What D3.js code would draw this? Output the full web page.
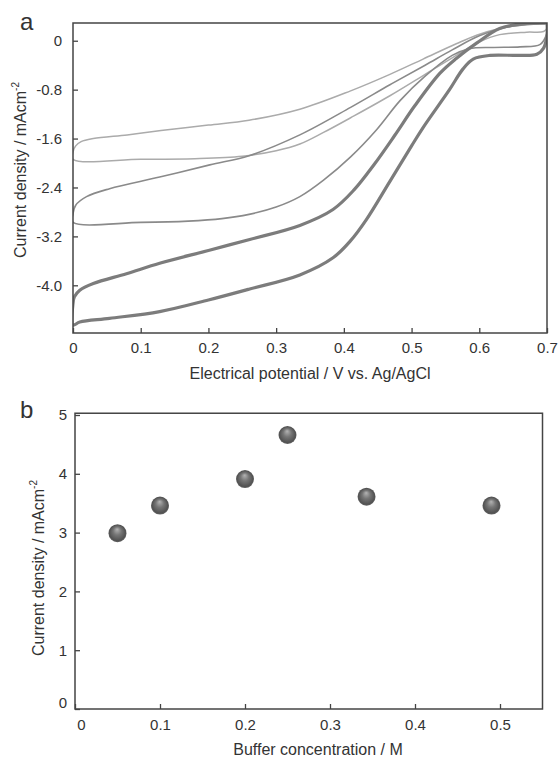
<!DOCTYPE html>
<html>
<head>
<meta charset="utf-8">
<script src="https://cdn.jsdelivr.net/npm/d3@7"></script>
<style>
	body { margin: 0; background: #fff; }
	text { font-family: Arial, "Liberation Sans", sans-serif; fill: #333; }
</style>
</head>
<body>
<div id="chart"></div>
<script>
var width = 558,
	height = 759;

// panel a - three voltammograms, each a loop of two branches (V, mA/cm2)
var potentialTicks = [0, 0.1, 0.2, 0.3, 0.4, 0.5, 0.6, 0.7];
var densityTicksA = [0, -0.8, -1.6, -2.4, -3.2, -4.0];

var lightUpperV = [0, 0.004, 0.012, 0.03, 0.08, 0.13, 0.2, 0.26, 0.335, 0.41, 0.468, 0.517, 0.566, 0.596, 0.63, 0.665, 0.7];
var lightUpperJ = [-1.82, -1.72, -1.65, -1.60, -1.54, -1.47, -1.38, -1.30, -1.12, -0.82, -0.55, -0.30, -0.05, 0.09, 0.2, 0.26, 0.28];
var lightLowerV = [0, 0.1, 0.18, 0.25, 0.3, 0.335, 0.37, 0.41, 0.468, 0.52, 0.56, 0.6, 0.63, 0.67, 0.695, 0.7];
var lightLowerJ = [-1.94, -1.94, -1.93, -1.89, -1.80, -1.69, -1.50, -1.26, -0.90, -0.55, -0.28, -0.02, 0.1, 0.14, 0.15, 0.2];

var medUpperV = [0, 0.004, 0.02, 0.054, 0.128, 0.202, 0.26, 0.335, 0.41, 0.468, 0.52, 0.56, 0.6, 0.64, 0.68, 0.7];
var medUpperJ = [-2.83, -2.69, -2.55, -2.42, -2.23, -2.03, -1.88, -1.54, -1.09, -0.72, -0.40, -0.15, 0.08, 0.22, 0.27, 0.28];
var medLowerV = [0, 0.1, 0.17, 0.22, 0.26, 0.3, 0.335, 0.37, 0.41, 0.448, 0.483, 0.52, 0.56, 0.585, 0.62, 0.66, 0.69, 0.7];
var medLowerJ = [-2.97, -2.97, -2.95, -2.91, -2.84, -2.72, -2.55, -2.28, -1.90, -1.46, -0.98, -0.58, -0.24, -0.13, -0.11, -0.10, -0.06, 0.12];

var darkUpperV = [0, 0.002, 0.01, 0.03, 0.079, 0.128, 0.2, 0.261, 0.335, 0.384, 0.415, 0.445, 0.475, 0.505, 0.542, 0.566, 0.596, 0.63, 0.665, 0.7];
var darkUpperJ = [-4.30, -4.19, -4.08, -3.97, -3.81, -3.64, -3.43, -3.25, -3.02, -2.76, -2.44, -2.02, -1.55, -1.06, -0.53, -0.29, -0.04, 0.2, 0.28, 0.29];
var darkLowerV = [0, 0.01, 0.054, 0.128, 0.2, 0.261, 0.335, 0.384, 0.41, 0.433, 0.468, 0.5, 0.517, 0.556, 0.576, 0.591, 0.616, 0.66, 0.685, 0.695, 0.7, 0.7];
var darkLowerJ = [-4.65, -4.60, -4.54, -4.43, -4.24, -4.06, -3.83, -3.55, -3.27, -2.93, -2.30, -1.72, -1.42, -0.80, -0.46, -0.30, -0.24, -0.24, -0.22, -0.12, 0.1, 0.29];

// panel b - current density vs buffer concentration
var concTicks = [0, 0.1, 0.2, 0.3, 0.4, 0.5];
var densityTicksB = [0, 1, 2, 3, 4, 5];
var bufferConc = [0.05, 0.1, 0.2, 0.25, 0.343, 0.49];
var peakDensity = [2.99, 3.46, 3.91, 4.66, 3.61, 3.46];

var svg = d3.select("#chart").append("svg")
	.attr("width", width)
	.attr("height", height);

svg.append("rect").attr("width", width).attr("height", height).attr("fill", "#fff");

var defs = svg.append("defs");
var grad = defs.append("radialGradient")
	.attr("id", "ball")
	.attr("cx", "50%").attr("cy", "50%").attr("r", "50%")
	.attr("fx", "48%").attr("fy", "28%");
grad.append("stop").attr("offset", "0%").attr("stop-color", "#b4b4b4");
grad.append("stop").attr("offset", "45%").attr("stop-color", "#767676");
grad.append("stop").attr("offset", "88%").attr("stop-color", "#525252");
grad.append("stop").attr("offset", "100%").attr("stop-color", "#636363");

function styleAxis(g) {
	g.select(".domain").remove();
	g.selectAll(".tick line").attr("stroke", "#444").attr("stroke-width", 1.3);
	g.selectAll(".tick text").style("font-size", "15px").attr("fill", "#333");
}

function yTitle(x, y, label) {
	var t = svg.append("text")
		.attr("transform", "translate(" + x + "," + y + ") rotate(-90)")
		.attr("text-anchor", "middle")
		.style("font-size", "16px");
	t.append("tspan").text(label);
	t.append("tspan").text("-2").style("font-size", "10px").attr("dy", -7);
}

// ---------- panel a ----------
var xA = d3.scaleLinear().domain([0, 0.7]).range([73, 547]);
var yA = d3.scaleLinear().domain([-4.78, 0.29]).range([333, 23]);

defs.append("clipPath").attr("id", "clipA")
	.append("rect")
	.attr("x", xA(0)).attr("y", yA(0.29))
	.attr("width", xA(0.7) - xA(0)).attr("height", yA(-4.78) - yA(0.29));

function loop(upV, upJ, lowV, lowJ) {
	var pts = [];
	for (var i = lowV.length - 1; i >= 0; i--) pts.push([lowV[i], lowJ[i]]);
	for (var j = 0; j < upV.length; j++) pts.push([upV[j], upJ[j]]);
	return pts;
}

var cvLine = d3.line()
	.x(function(d) { return xA(d[0]); })
	.y(function(d) { return yA(d[1]); })
	.curve(d3.curveCatmullRom.alpha(0.5));

var loops = [
	{ pts: loop(lightUpperV, lightUpperJ, lightLowerV, lightLowerJ), color: "#ababab", w: 1.5 },
	{ pts: loop(medUpperV, medUpperJ, medLowerV, medLowerJ), color: "#8a8a8a", w: 1.6 },
	{ pts: loop(darkUpperV, darkUpperJ, darkLowerV, darkLowerJ), color: "#7c7c7c", w: 3.2 }
];

svg.append("g").attr("clip-path", "url(#clipA)")
	.selectAll("path")
	.data(loops)
	.enter().append("path")
	.attr("d", function(d) { return cvLine(d.pts); })
	.attr("fill", "none")
	.attr("stroke", function(d) { return d.color; })
	.attr("stroke-width", function(d) { return d.w; })
	.attr("stroke-linejoin", "round");

svg.append("g")
	.attr("transform", "translate(0," + yA(-4.78) + ")")
	.call(d3.axisBottom(xA).tickValues(potentialTicks).tickSize(-5).tickPadding(9).tickFormat(d3.format("")))
	.call(styleAxis);

svg.append("g")
	.attr("transform", "translate(" + xA(0) + ",0)")
	.call(d3.axisLeft(yA).tickValues(densityTicksA).tickSize(-5).tickPadding(11).tickFormat(function(d) { return d === 0 ? "0" : d.toFixed(1); }))
	.call(styleAxis);

svg.append("rect")
	.attr("x", xA(0)).attr("y", yA(0.29))
	.attr("width", xA(0.7) - xA(0)).attr("height", yA(-4.78) - yA(0.29))
	.attr("fill", "none").attr("stroke", "#444").attr("stroke-width", 1.5);

svg.append("text").text("a").attr("x", 20).attr("y", 30).style("font-size", "24px").attr("fill", "#222");

svg.append("text")
	.text("Electrical potential / V vs. Ag/AgCl")
	.attr("x", (xA(0) + xA(0.7)) / 2)
	.attr("y", 379)
	.attr("text-anchor", "middle")
	.style("font-size", "16px");

yTitle(26, 170, "Current density / mAcm");

// ---------- panel b ----------
var xB = d3.scaleLinear().domain([0, 0.55]).range([75, 542.5]);
var yB = d3.scaleLinear().domain([0, 5]).range([709, 415]);

svg.append("g")
	.attr("transform", "translate(0," + yB(0) + ")")
	.call(d3.axisBottom(xB).tickValues(concTicks).tickSize(-5).tickPadding(10).tickFormat(d3.format("")))
	.call(styleAxis)
	.selectAll(".tick text").attr("dx", function(d) { return d === 0 ? 6 : 0; });

svg.append("g")
	.attr("transform", "translate(" + xB(0) + ",0)")
	.call(d3.axisLeft(yB).tickValues(densityTicksB).tickSize(-5).tickPadding(8).tickFormat(d3.format("d")))
	.call(styleAxis)
	.selectAll(".tick text").attr("dy", function(d) { return d === 0 ? "-0.1em" : "0.32em"; });

svg.append("rect")
	.attr("x", xB(0)).attr("y", yB(5.03))
	.attr("width", xB(0.55) - xB(0)).attr("height", yB(0) - yB(5.03))
	.attr("fill", "none").attr("stroke", "#444").attr("stroke-width", 1.5);

svg.append("g").selectAll("circle")
	.data(bufferConc)
	.enter().append("circle")
	.attr("cx", function(d) { return xB(d); })
	.attr("cy", function(d, i) { return yB(peakDensity[i]); })
	.attr("r", 9)
	.attr("fill", "url(#ball)");

svg.append("text").text("b").attr("x", 20).attr("y", 418).style("font-size", "24px").attr("fill", "#222");

svg.append("text")
	.text("Buffer concentration / M")
	.attr("x", 318)
	.attr("y", 755)
	.attr("text-anchor", "middle")
	.style("font-size", "16px");

yTitle(44, 568, "Current density / mAcm");
</script>
</body>
</html>
